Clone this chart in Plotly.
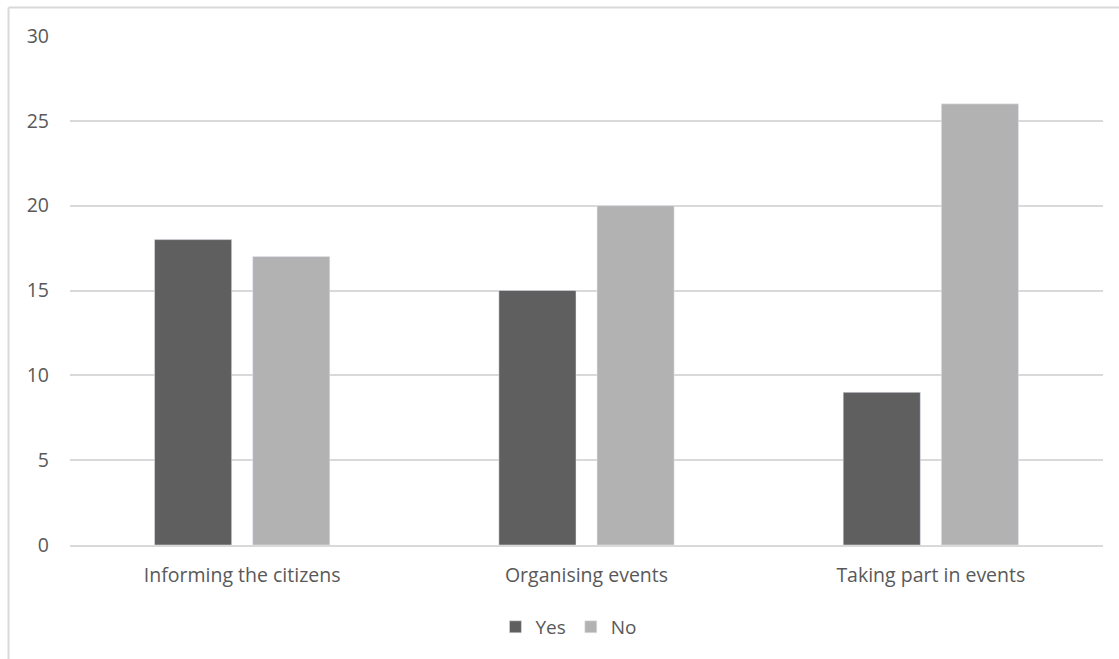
import plotly.graph_objects as go

categories = ["Informing the citizens", "Organising events", "Taking part in events"]
yes_values = [18, 15, 9]
no_values = [17, 20, 26]
y_ticks = [0, 5, 10, 15, 20, 25, 30]

W, H = 1119, 659
ML, MR, MT, MB = 70, 16, 36, 114
pw = W - ML - MR
ph = H - MT - MB

font = dict(family="Open Sans, Noto Sans, sans-serif", size=19.5, color="#595959")

fig = go.Figure()
fig.add_trace(go.Bar(name="Yes", x=categories, y=yes_values, marker_color="#5f5f5f"))
fig.add_trace(go.Bar(name="No", x=categories, y=no_values, marker_color="#b2b2b2"))

# outer chart frame (left and top edges visible)
bx = (8.5 - ML) / pw
by = 1 + (MT - 7.5) / ph
fig.add_shape(type="line", xref="paper", yref="paper", x0=bx, x1=bx, y0=-2, y1=by,
              line=dict(color="#d9d9d9", width=2))
fig.add_shape(type="line", xref="paper", yref="paper", x0=bx, x1=1.1, y0=by, y1=by,
              line=dict(color="#d9d9d9", width=2))

fig.update_layout(
    width=W, height=H,
    margin=dict(l=ML, r=MR, t=MT, b=MB),
    paper_bgcolor="white", plot_bgcolor="white",
    barmode="group", bargap=0.43, bargroupgap=0.214,
    font=font,
    showlegend=True,
    legend=dict(orientation="h", x=0.483, xanchor="center", y=-0.161, yanchor="middle",
                font=dict(size=19, color="#595959"), itemwidth=30, traceorder="normal"),
    xaxis=dict(showgrid=False, showline=True, linecolor="#d9d9d9", linewidth=2,
               ticks="", tickfont=font, ticklabelstandoff=12),
    yaxis=dict(range=[0, 30], tickvals=y_ticks, showgrid=True, gridcolor="#d9d9d9",
               gridwidth=2, zeroline=False, showline=False, ticks="",
               tickfont=font, ticklabelstandoff=20),
)

fig.write_html("out.html")
